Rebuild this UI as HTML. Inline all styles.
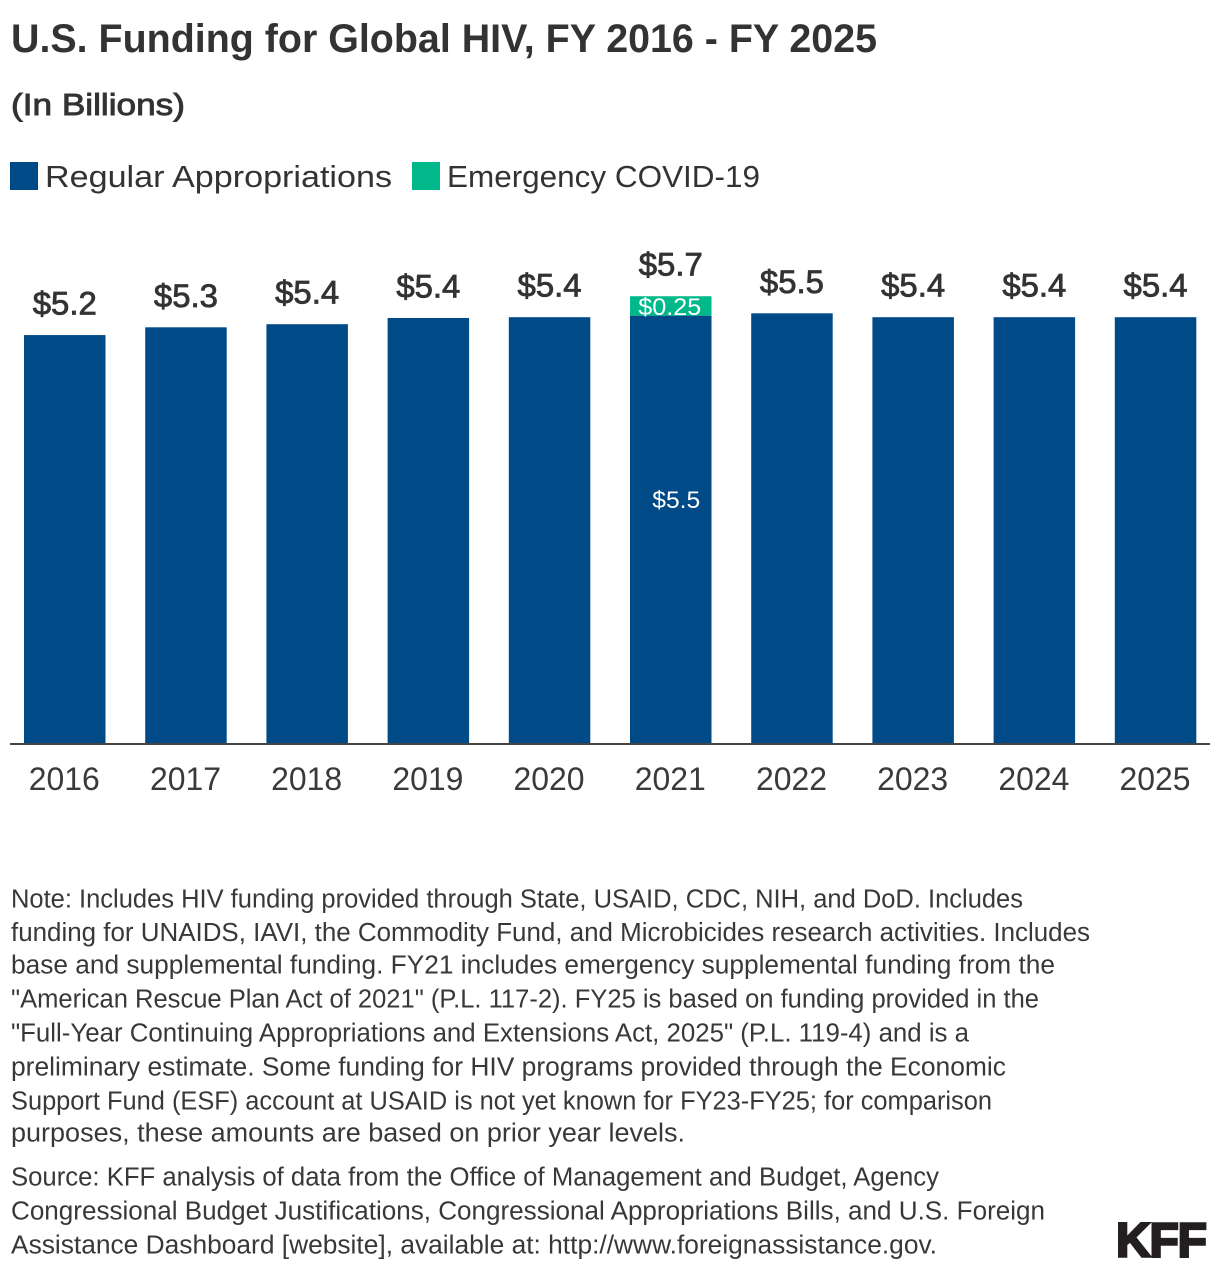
<!DOCTYPE html>
<html lang="en">
<head>
<meta charset="utf-8">
<title>U.S. Funding for Global HIV, FY 2016 - FY 2025</title>
<style>
html,body{margin:0;padding:0;background:#fff;width:1220px;height:1272px;overflow:hidden}
svg{display:block}
text{font-family:"Liberation Sans",sans-serif;fill:#333}
.note{font-size:25.5px;fill:#383838}
</style>
</head>
<body>
<svg id="chart" xmlns="http://www.w3.org/2000/svg" width="1220" height="1272" viewBox="0 0 1220 1272">
  <text x="11" y="52" font-size="39.5" font-weight="700" textLength="866" lengthAdjust="spacingAndGlyphs">U.S. Funding for Global HIV, FY 2016 - FY 2025</text>
  <text x="11" y="115" font-size="31" stroke="#333" stroke-width="0.9" textLength="174" lengthAdjust="spacingAndGlyphs">(In Billions)</text>

  <g>
    <rect x="10" y="162" width="28" height="28" fill="#004b87"/>
    <text x="45" y="187" font-size="31" textLength="347" lengthAdjust="spacingAndGlyphs">Regular Appropriations</text>
    <rect x="412" y="162" width="28" height="28" fill="#00b88a"/>
    <text x="447" y="187" font-size="31" textLength="313" lengthAdjust="spacingAndGlyphs">Emergency COVID-19</text>
  </g>

  <g id="plot"></g>

  <g>
    <text class="note" x="11" y="907.5" textLength="1012" lengthAdjust="spacingAndGlyphs">Note: Includes HIV funding provided through State, USAID, CDC, NIH, and DoD. Includes</text>
    <text class="note" x="11" y="941" textLength="1079" lengthAdjust="spacingAndGlyphs">funding for UNAIDS, IAVI, the Commodity Fund, and Microbicides research activities. Includes</text>
    <text class="note" x="11" y="973.5" textLength="1044" lengthAdjust="spacingAndGlyphs">base and supplemental funding. FY21 includes emergency supplemental funding from the</text>
    <text class="note" x="11" y="1007.5" textLength="1028" lengthAdjust="spacingAndGlyphs">"American Rescue Plan Act of 2021" (P.L. 117-2). FY25 is based on funding provided in the</text>
    <text class="note" x="11" y="1041.5" textLength="958" lengthAdjust="spacingAndGlyphs">"Full-Year Continuing Appropriations and Extensions Act, 2025" (P.L. 119-4) and is a</text>
    <text class="note" x="11" y="1075.5" textLength="995" lengthAdjust="spacingAndGlyphs">preliminary estimate. Some funding for HIV programs provided through the Economic</text>
    <text class="note" x="11" y="1109.5" textLength="981" lengthAdjust="spacingAndGlyphs">Support Fund (ESF) account at USAID is not yet known for FY23-FY25; for comparison</text>
    <text class="note" x="11" y="1141.5" textLength="674" lengthAdjust="spacingAndGlyphs">purposes, these amounts are based on prior year levels.</text>
  </g>
  <g>
    <text class="note" x="11" y="1185.5" textLength="928" lengthAdjust="spacingAndGlyphs">Source: KFF analysis of data from the Office of Management and Budget, Agency</text>
    <text class="note" x="11" y="1219.5" textLength="1034" lengthAdjust="spacingAndGlyphs">Congressional Budget Justifications, Congressional Appropriations Bills, and U.S. Foreign</text>
    <text class="note" x="11" y="1253.5" textLength="926" lengthAdjust="spacingAndGlyphs">Assistance Dashboard [website], available at: http://www.foreignassistance.gov.</text>
  </g>
  <text x="1116" y="1256.5" font-size="48" font-weight="700" stroke="#231f20" stroke-width="2.4" style="fill:#231f20" textLength="91" lengthAdjust="spacing">KFF</text>
</svg>

<script>
const years = ["2016","2017","2018","2019","2020","2021","2022","2023","2024","2025"];
const regularValues = [5.25,5.35,5.39,5.47,5.48,5.50,5.53,5.48,5.48,5.48];
const emergencyValues = [0,0,0,0,0,0.25,0,0,0,0];
const totalLabels = ["$5.2","$5.3","$5.4","$5.4","$5.4","$5.7","$5.5","$5.4","$5.4","$5.4"];
const regularSegmentLabels = ["","","","","","$5.5","","","",""];
const emergencySegmentLabels = ["","","","","","$0.25","","","",""];

const SVG_NS = "http://www.w3.org/2000/svg";
const plot = document.getElementById("plot");
const baselineY = 743;
const pixelsPerUnit = 77.7;
const firstBarLeft = 24;
const barStep = 121.2;
const barWidth = 81.5;

function xScale(i){ return firstBarLeft + i * barStep; }
function yScale(v){ return baselineY - v * pixelsPerUnit; }

function addRect(x, y, w, h, fill){
  const r = document.createElementNS(SVG_NS, "rect");
  r.setAttribute("x", x);
  r.setAttribute("y", y);
  r.setAttribute("width", w);
  r.setAttribute("height", h);
  r.setAttribute("fill", fill);
  plot.appendChild(r);
  return r;
}
function addText(str, cx, y, size, fill, width){
  const t = document.createElementNS(SVG_NS, "text");
  t.textContent = str;
  t.setAttribute("x", cx - width / 2);
  t.setAttribute("y", y);
  t.setAttribute("font-size", size);
  t.setAttribute("textLength", width);
  t.setAttribute("lengthAdjust", "spacingAndGlyphs");
  t.style.fill = fill;
  plot.appendChild(t);
  return t;
}

years.forEach(function(year, i){
  const x = xScale(i);
  const cx = x + barWidth / 2;
  const regTop = yScale(regularValues[i]);
  const totalTop = yScale(regularValues[i] + emergencyValues[i]);

  const bar = addRect(x, regTop, barWidth, baselineY - regTop, "#004b87");
  
  

  if (emergencyValues[i] > 0) {
    const eBar = addRect(x, totalTop, barWidth, regTop - totalTop, "#00b88a");
    
    
  }
  if (emergencySegmentLabels[i]) {
    const eLabel = addText(emergencySegmentLabels[i], cx - 1, regTop - 0.5, 24.5, "#fff", 63);
    
    
  }
  if (regularSegmentLabels[i]) {
    const rLabel = addText(regularSegmentLabels[i], cx + 5.5, (regTop + baselineY) / 2 - 21.5, 24.5, "#fff", 48);
    
    
  }

  const total = addText(totalLabels[i], cx, totalTop - 20.5, 32, "#333", 64);
  total.setAttribute("stroke", "#333");
  total.setAttribute("stroke-width", "0.8");
  
  

  const tick = addText(year, cx - 0.5, 790, 32, "#3a3a3a", 71);
  
  
});

const axis = addRect(10, baselineY, 1200, 2, "#444");


</script>
</body>
</html>
